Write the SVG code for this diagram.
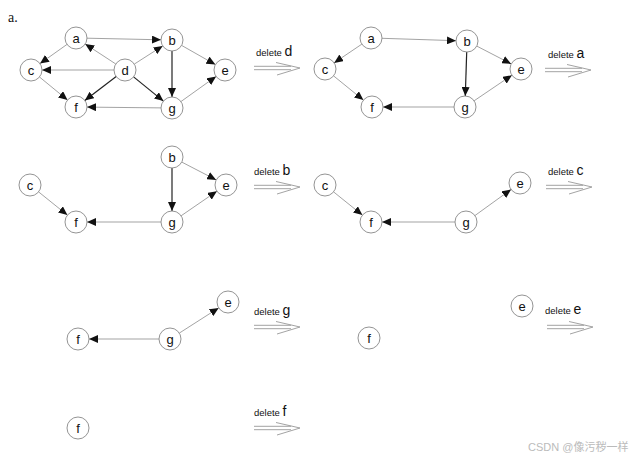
<svg xmlns="http://www.w3.org/2000/svg" xmlns:xlink="http://www.w3.org/1999/xlink" width="636" height="460" viewBox="0 0 636 460">
<style>
.n circle{fill:#fff;stroke:#888;stroke-width:0.9}
.n text{font-family:"Liberation Sans",Arial,sans-serif;font-size:13px;fill:#111;text-anchor:middle}
.e{stroke:#999;stroke-width:0.9;fill:none;marker-end:url(#ah)}
.k{stroke:#222;stroke-width:1.2;fill:none;marker-end:url(#ah)}
.dl{font-family:"Liberation Sans",Arial,sans-serif;font-size:9.5px;fill:#111}
.dl tspan{font-size:14px}
.da{stroke:#999;stroke-width:0.9;fill:none}
</style>
<defs>
<marker id="ah" markerWidth="10" markerHeight="8" refX="9" refY="4" orient="auto" markerUnits="userSpaceOnUse">
<path d="M0,0 L9,4 L0,8 Z" fill="#111"/>
</marker>
<g id="dbl"><path class="da" d="M0,-1.7 H37 M0,1.7 H37 M22,-5.5 L46,0 L23,7"/></g>
</defs>
<rect width="636" height="460" fill="#fff"/>
<text x="8" y="22" font-family="Liberation Serif,serif" font-size="14" fill="#111">a.</text>
<g id="connectors">
<!-- panel 1 -->
<line class="e" x1="87" y1="38.2" x2="161" y2="39.8"/>
<line class="e" x1="67" y1="44.4" x2="40" y2="63.6"/>
<line class="e" x1="115.8" y1="64" x2="85.2" y2="44"/>
<line class="e" x1="114" y1="70" x2="42" y2="70"/>
<line class="e" x1="134.3" y1="64.1" x2="162.7" y2="45.9"/>
<line class="k" x1="116.2" y1="76.6" x2="84.8" y2="100.4"/>
<line class="k" x1="133.6" y1="76.9" x2="163.4" y2="101.1"/>
<line class="k" x1="172" y1="51" x2="172" y2="97"/>
<line class="e" x1="181.6" y1="45.4" x2="215.4" y2="64.6"/>
<line class="e" x1="39.5" y1="77" x2="67.5" y2="100"/>
<line class="e" x1="161" y1="107.9" x2="87" y2="107.1"/>
<line class="e" x1="180.9" y1="101.6" x2="216.1" y2="76.4"/>
<!-- panel 2 -->
<line class="e" x1="382" y1="38.3" x2="456" y2="40.7"/>
<line class="e" x1="361.9" y1="44.1" x2="334.1" y2="62.9"/>
<line class="k" x1="466.7" y1="52" x2="465.3" y2="96"/>
<line class="e" x1="476.8" y1="46.1" x2="511.2" y2="63.9"/>
<line class="e" x1="333.6" y1="75.9" x2="363.4" y2="100.1"/>
<line class="e" x1="454" y1="107" x2="383" y2="107"/>
<line class="e" x1="474.1" y1="100.8" x2="511.9" y2="75.2"/>
<!-- panel 3 -->
<line class="k" x1="172" y1="168" x2="172" y2="211"/>
<line class="e" x1="181.8" y1="162.1" x2="216.2" y2="179.9"/>
<line class="e" x1="38.6" y1="191.9" x2="67.4" y2="215.1"/>
<line class="e" x1="161" y1="222" x2="87" y2="222"/>
<line class="e" x1="181.1" y1="215.8" x2="216.9" y2="191.2"/>
<!-- panel 4 -->
<line class="e" x1="333.6" y1="191.9" x2="362.4" y2="215.1"/>
<line class="e" x1="455" y1="222" x2="382" y2="222"/>
<line class="e" x1="474.9" y1="215.6" x2="511.1" y2="189.4"/>
<!-- panel 5 -->
<line class="e" x1="159" y1="339" x2="89" y2="339"/>
<line class="e" x1="179.3" y1="333.1" x2="218.7" y2="307.9"/>
</g>
<g id="p1">
<g id="p1a" class="n"><circle cx="76" cy="38" r="11"/><text x="76" y="42.5">a</text></g>
<g id="p1b" class="n"><circle cx="172" cy="40" r="11"/><text x="172" y="44.5">b</text></g>
<g id="p1c" class="n"><circle cx="31" cy="70" r="11"/><text x="31" y="74.5">c</text></g>
<g id="p1d" class="n"><circle cx="125" cy="70" r="11"/><text x="125" y="74.5">d</text></g>
<g id="p1e" class="n"><circle cx="225" cy="70" r="11"/><text x="225" y="74.5">e</text></g>
<g id="p1f" class="n"><circle cx="76" cy="107" r="11"/><text x="76" y="111.5">f</text></g>
<g id="p1g" class="n"><circle cx="172" cy="108" r="11"/><text x="172" y="112.5">g</text></g>
</g>
<g id="p2">
<g id="p2a" class="n"><circle cx="371" cy="38" r="11"/><text x="371" y="42.5">a</text></g>
<g id="p2b" class="n"><circle cx="467" cy="41" r="11"/><text x="467" y="45.5">b</text></g>
<g id="p2c" class="n"><circle cx="325" cy="69" r="11"/><text x="325" y="73.5">c</text></g>
<g id="p2e" class="n"><circle cx="521" cy="69" r="11"/><text x="521" y="73.5">e</text></g>
<g id="p2f" class="n"><circle cx="372" cy="107" r="11"/><text x="372" y="111.5">f</text></g>
<g id="p2g" class="n"><circle cx="465" cy="107" r="11"/><text x="465" y="111.5">g</text></g>
</g>
<g id="p3">
<g id="p3b" class="n"><circle cx="172" cy="157" r="11"/><text x="172" y="161.5">b</text></g>
<g id="p3c" class="n"><circle cx="30" cy="185" r="11"/><text x="30" y="189.5">c</text></g>
<g id="p3e" class="n"><circle cx="226" cy="185" r="11"/><text x="226" y="189.5">e</text></g>
<g id="p3f" class="n"><circle cx="76" cy="222" r="11"/><text x="76" y="226.5">f</text></g>
<g id="p3g" class="n"><circle cx="172" cy="222" r="11"/><text x="172" y="226.5">g</text></g>
</g>
<g id="p4">
<g id="p4c" class="n"><circle cx="325" cy="185" r="11"/><text x="325" y="189.5">c</text></g>
<g id="p4e" class="n"><circle cx="520" cy="183" r="11"/><text x="520" y="187.5">e</text></g>
<g id="p4f" class="n"><circle cx="371" cy="222" r="11"/><text x="371" y="226.5">f</text></g>
<g id="p4g" class="n"><circle cx="466" cy="222" r="11"/><text x="466" y="226.5">g</text></g>
</g>
<g id="p5">
<g id="p5e" class="n"><circle cx="228" cy="302" r="11"/><text x="228" y="306.5">e</text></g>
<g id="p5f" class="n"><circle cx="78" cy="339" r="11"/><text x="78" y="343.5">f</text></g>
<g id="p5g" class="n"><circle cx="170" cy="339" r="11"/><text x="170" y="343.5">g</text></g>
</g>
<g id="p6">
<g id="p6e" class="n"><circle cx="522" cy="306" r="11"/><text x="522" y="310.5">e</text></g>
<g id="p6f" class="n"><circle cx="369" cy="338" r="11"/><text x="369" y="342.5">f</text></g>
</g>
<g id="p7">
<g id="p7f" class="n"><circle cx="78" cy="428" r="11"/><text x="78" y="432.5">f</text></g>
</g>
<g id="steps">
<text class="dl" x="256" y="56">delete <tspan>d</tspan></text>
<use xlink:href="#dbl" x="254" y="68"/>
<text class="dl" x="548" y="58">delete <tspan>a</tspan></text>
<use xlink:href="#dbl" x="545" y="70"/>
<text class="dl" x="254" y="175">delete <tspan>b</tspan></text>
<use xlink:href="#dbl" x="254" y="187"/>
<text class="dl" x="548" y="175">delete <tspan>c</tspan></text>
<use xlink:href="#dbl" x="546" y="187"/>
<text class="dl" x="254" y="315">delete <tspan>g</tspan></text>
<use xlink:href="#dbl" x="254" y="327"/>
<text class="dl" x="545" y="314">delete <tspan>e</tspan></text>
<use xlink:href="#dbl" x="547" y="327"/>
<text class="dl" x="254" y="416">delete <tspan>f</tspan></text>
<use xlink:href="#dbl" x="254" y="428"/>
</g>
<text x="528" y="451" font-family="Liberation Sans,'Noto Sans CJK SC',sans-serif" font-size="11" fill="#bbb">CSDN @像污秽一样</text>
</svg>
